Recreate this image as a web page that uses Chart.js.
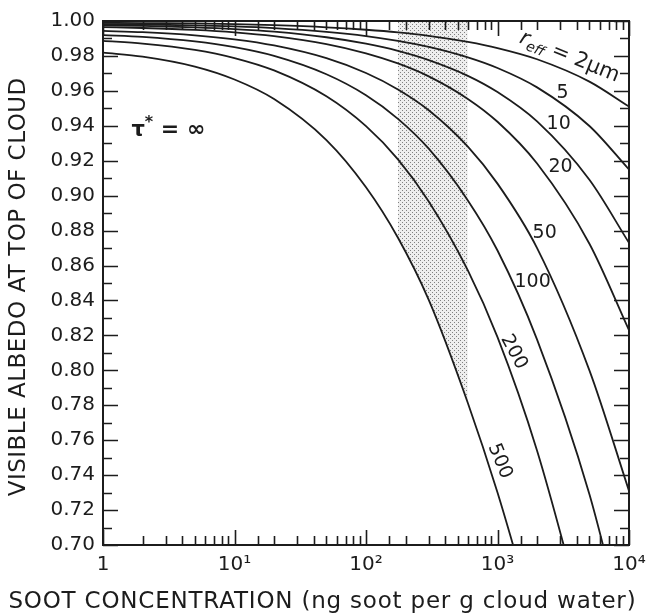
<!DOCTYPE html>
<html>
<head>
<meta charset="utf-8">
<script src="https://cdn.jsdelivr.net/npm/chart.js@4.4.1/dist/chart.umd.min.js"></script>
<style>
  html, body { margin: 0; padding: 0; background: #fff; }
  canvas { display: block; }
</style>
</head>
<body>
<canvas id="myChart" width="646" height="615"></canvas>
<script>
// soot concentration (ng soot per g cloud water)
var concentration = [1, 2, 5, 10, 20, 50, 100, 175, 300, 595, 1000, 2000, 5000, 10000];

// visible albedo at top of cloud, one list per effective radius (um)
var albedoR2   = [0.9990, 0.9988, 0.9986, 0.9982, 0.9976, 0.9964, 0.9950, 0.9935, 0.9915, 0.9880, 0.9845, 0.9781, 0.9653, 0.9510];
var albedoR5   = [0.9982, 0.9980, 0.9975, 0.9969, 0.9959, 0.9938, 0.9914, 0.9886, 0.9852, 0.9792, 0.9731, 0.9620, 0.9399, 0.9150];
var albedoR10  = [0.9975, 0.9972, 0.9964, 0.9954, 0.9939, 0.9907, 0.9870, 0.9829, 0.9776, 0.9686, 0.9593, 0.9425, 0.9091, 0.8730];
var albedoR20  = [0.9965, 0.9960, 0.9949, 0.9935, 0.9913, 0.9868, 0.9815, 0.9757, 0.9683, 0.9554, 0.9423, 0.9184, 0.8725, 0.8230];
var albedoR50  = [0.9943, 0.9936, 0.9918, 0.9895, 0.9860, 0.9787, 0.9702, 0.9608, 0.9489, 0.9281, 0.9069, 0.8700, 0.8000, 0.7310];
var albedoR100 = [0.9919, 0.9909, 0.9883, 0.9850, 0.9800, 0.9695, 0.9575, 0.9440, 0.9269, 0.8973, 0.8686, 0.8176, 0.7290, 0.6400];
var albedoR200 = [0.9886, 0.9871, 0.9835, 0.9788, 0.9717, 0.9569, 0.9398, 0.9208, 0.8967, 0.8572, 0.8190, 0.7540, 0.6450, null];
var albedoR500 = [0.9819, 0.9796, 0.9739, 0.9665, 0.9553, 0.9318, 0.9048, 0.8759, 0.8403, 0.7813, 0.7300, 0.6520, null, null];

var radiusLabels = ["2", "5", "10", "20", "50", "100", "200", "500"];
var curves = [albedoR2, albedoR5, albedoR10, albedoR20, albedoR50, albedoR100, albedoR200, albedoR500];

// stippled band between these concentrations, above the 500 um curve
var shadeFrom = 175;
var shadeTo = 595;

// axis tick labels
var xTickLabels = { 1: "1", 10: "10\u00b9", 100: "10\u00b2", 1000: "10\u00b3", 10000: "10\u2074" };
var yMin = 0.70, yMax = 1.00, yStep = 0.01;

var FONT = "'DejaVu Sans', sans-serif";
var INK = "#1c1c1c";

function points(ys) {
    return concentration.map(function (c, i) { return { x: c, y: ys[i] }; });
}

var shadePoints = points(albedoR500).filter(function (p) {
    return p.x >= shadeFrom && p.x <= shadeTo;
});

// dotted fill
var pc = document.createElement("canvas");
pc.width = 4; pc.height = 4;
var pctx = pc.getContext("2d");
pctx.fillStyle = "#eeeeee";
pctx.fillRect(0, 0, 4, 4);
pctx.fillStyle = "#808080";
pctx.fillRect(0, 0, 1, 1);
pctx.fillRect(2, 2, 1, 1);
var stipple = pctx.createPattern(pc, "repeat");

var datasets = curves.map(function (ys, i) {
    return {
        label: radiusLabels[i],
        data: points(ys),
        borderColor: INK,
        borderWidth: 1.8,
        pointRadius: 0,
        fill: false,
        cubicInterpolationMode: "monotone"
    };
});
datasets.push({
    label: "shade",
    data: shadePoints,
    borderWidth: 0,
    borderColor: "rgba(0,0,0,0)",
    pointRadius: 0,
    backgroundColor: stipple,
    fill: "end",
    cubicInterpolationMode: "monotone"
});

// curve labels, placed in data coordinates
var curveText = [
    { t: "5",   x: 3130, y: 0.9588, rot: 0 },
    { t: "10",  x: 2917, y: 0.9410, rot: 0 },
    { t: "20",  x: 3020, y: 0.9164, rot: 0 },
    { t: "50",  x: 2285, y: 0.8786, rot: 0 },
    { t: "100", x: 1849, y: 0.8506, rot: 0 },
    { t: "200", x: 1328, y: 0.8105, rot: 62 },
    { t: "500", x: 1040, y: 0.7480, rot: 68 }
];

function spacedText(ctx, text, x, y, width) {
    ctx.letterSpacing = "0px";
    var w = ctx.measureText(text).width;
    var sp = (width - w) / text.length;
    ctx.letterSpacing = sp + "px";
    ctx.textAlign = "left";
    var w2 = ctx.measureText(text).width;
    ctx.fillText(text, x - w2 / 2 + sp / 2, y);
    ctx.letterSpacing = "0px";
}

var frameAndTicks = {
    id: "frameAndTicks",
    afterDatasetsDraw: function (chart) {
        var ctx = chart.ctx, a = chart.chartArea;
        var xs = chart.scales.x, ys = chart.scales.y;
        ctx.save();
        ctx.strokeStyle = INK;
        ctx.lineWidth = 2;
        ctx.strokeRect(a.left, a.top, a.right - a.left, a.bottom - a.top);
        ctx.lineWidth = 1.6;
        ctx.beginPath();
        ys.ticks.forEach(function (t) {
            var p = Math.round(ys.getPixelForValue(t.value)) + 0.5;
            var len = Math.round(t.value * 100) % 2 === 0 ? 15 : 9;
            ctx.moveTo(a.left, p); ctx.lineTo(a.left + len, p);
            ctx.moveTo(a.right, p); ctx.lineTo(a.right - len, p);
        });
        xs.ticks.forEach(function (t) {
            var p = Math.round(xs.getPixelForValue(t.value)) + 0.5;
            var lg = Math.log10(t.value);
            var len = Math.abs(lg - Math.round(lg)) < 1e-6 ? 15 : 9;
            ctx.moveTo(p, a.bottom); ctx.lineTo(p, a.bottom - len);
            ctx.moveTo(p, a.top); ctx.lineTo(p, a.top + len);
        });
        ctx.stroke();
        ctx.restore();
    },
    afterDraw: function (chart) {
        var ctx = chart.ctx, a = chart.chartArea;
        var xs = chart.scales.x, ys = chart.scales.y;
        ctx.save();
        ctx.fillStyle = INK;
        ctx.textBaseline = "middle";

        curveText.forEach(function (c) {
            ctx.save();
            ctx.translate(xs.getPixelForValue(c.x), ys.getPixelForValue(c.y));
            ctx.rotate(c.rot * Math.PI / 180);
            ctx.font = "19px " + FONT;
            ctx.textAlign = "center";
            ctx.fillText(c.t, 0, 0);
            ctx.restore();
        });

        // r_eff = 2 um
        ctx.save();
        ctx.translate(xs.getPixelForValue(3532), ys.getPixelForValue(0.9794));
        ctx.rotate(22 * Math.PI / 180);
        ctx.textAlign = "left";
        var f1 = "italic 21px " + FONT, f2 = "italic 14px " + FONT, f3 = "21px " + FONT;
        ctx.font = f1; var w1 = ctx.measureText("r").width;
        ctx.font = f2; var w2 = ctx.measureText("eff").width;
        ctx.font = f3; var w3 = ctx.measureText(" = 2\u03bcm").width;
        var x0 = -(w1 + w2 + w3) / 2;
        ctx.font = f1; ctx.fillText("r", x0, 0);
        ctx.font = f2; ctx.fillText("eff", x0 + w1, 6);
        ctx.font = f3; ctx.fillText(" = 2\u03bcm", x0 + w1 + w2, 0);
        ctx.restore();

        // tau* = infinity
        ctx.save();
        ctx.translate(xs.getPixelForValue(3.14), ys.getPixelForValue(0.9376));
        ctx.textAlign = "left";
        ctx.font = "bold 21px " + FONT; var wt = ctx.measureText("\u03c4").width;
        ctx.font = "bold 16px " + FONT; var ws = ctx.measureText("*").width;
        ctx.font = "bold 22px " + FONT; var we = ctx.measureText(" = \u221e").width;
        var tx = -(wt + ws + we) / 2;
        ctx.font = "bold 21px " + FONT; ctx.fillText("\u03c4", tx, 1);
        ctx.font = "bold 16px " + FONT; ctx.fillText("*", tx + wt, -7);
        ctx.font = "bold 22px " + FONT; ctx.fillText(" = \u221e", tx + wt + ws, 0);
        ctx.restore();

        // axis titles
        ctx.font = "23px " + FONT;
        spacedText(ctx, "SOOT CONCENTRATION (ng soot per g cloud water)", 322, 602, 628);
        ctx.save();
        ctx.translate(19, (a.top + a.bottom) / 2 + 4);
        ctx.rotate(-Math.PI / 2);
        spacedText(ctx, "VISIBLE ALBEDO AT TOP OF CLOUD", 0, 0, 419);
        ctx.restore();
        ctx.restore();
    }
};

new Chart("myChart", {
    type: "line",
    data: { datasets: datasets },
    options: {
        responsive: false,
        animation: false,
        events: [],
        layout: { padding: { top: 21, right: 17, left: 0, bottom: 0 } },
        plugins: {
            legend: { display: false },
            tooltip: { enabled: false }
        },
        scales: {
            x: {
                type: "logarithmic",
                min: 1,
                max: 10000,
                grid: { display: false, drawTicks: false },
                border: { display: false },
                ticks: {
                    autoSkip: false,
                    maxRotation: 0,
                    padding: 8,
                    color: INK,
                    font: { family: FONT, size: 20 },
                    callback: function (v) { return xTickLabels[v] || ""; }
                },
                afterFit: function (s) {
                    s.height = 70;
                    s.paddingLeft = 0;
                    s.paddingRight = 0;
                }
            },
            y: {
                min: yMin,
                max: yMax,
                grid: { display: false, drawTicks: false },
                border: { display: false },
                ticks: {
                    stepSize: yStep,
                    autoSkip: false,
                    padding: 8,
                    color: INK,
                    font: { family: FONT, size: 20 },
                    callback: function (v) {
                        return Math.round(v * 100) % 2 === 0 ? v.toFixed(2) : "";
                    }
                },
                afterFit: function (s) {
                    s.width = 103;
                    s.paddingTop = 0;
                    s.paddingBottom = 0;
                }
            }
        }
    },
    plugins: [frameAndTicks]
});
</script>
</body>
</html>
